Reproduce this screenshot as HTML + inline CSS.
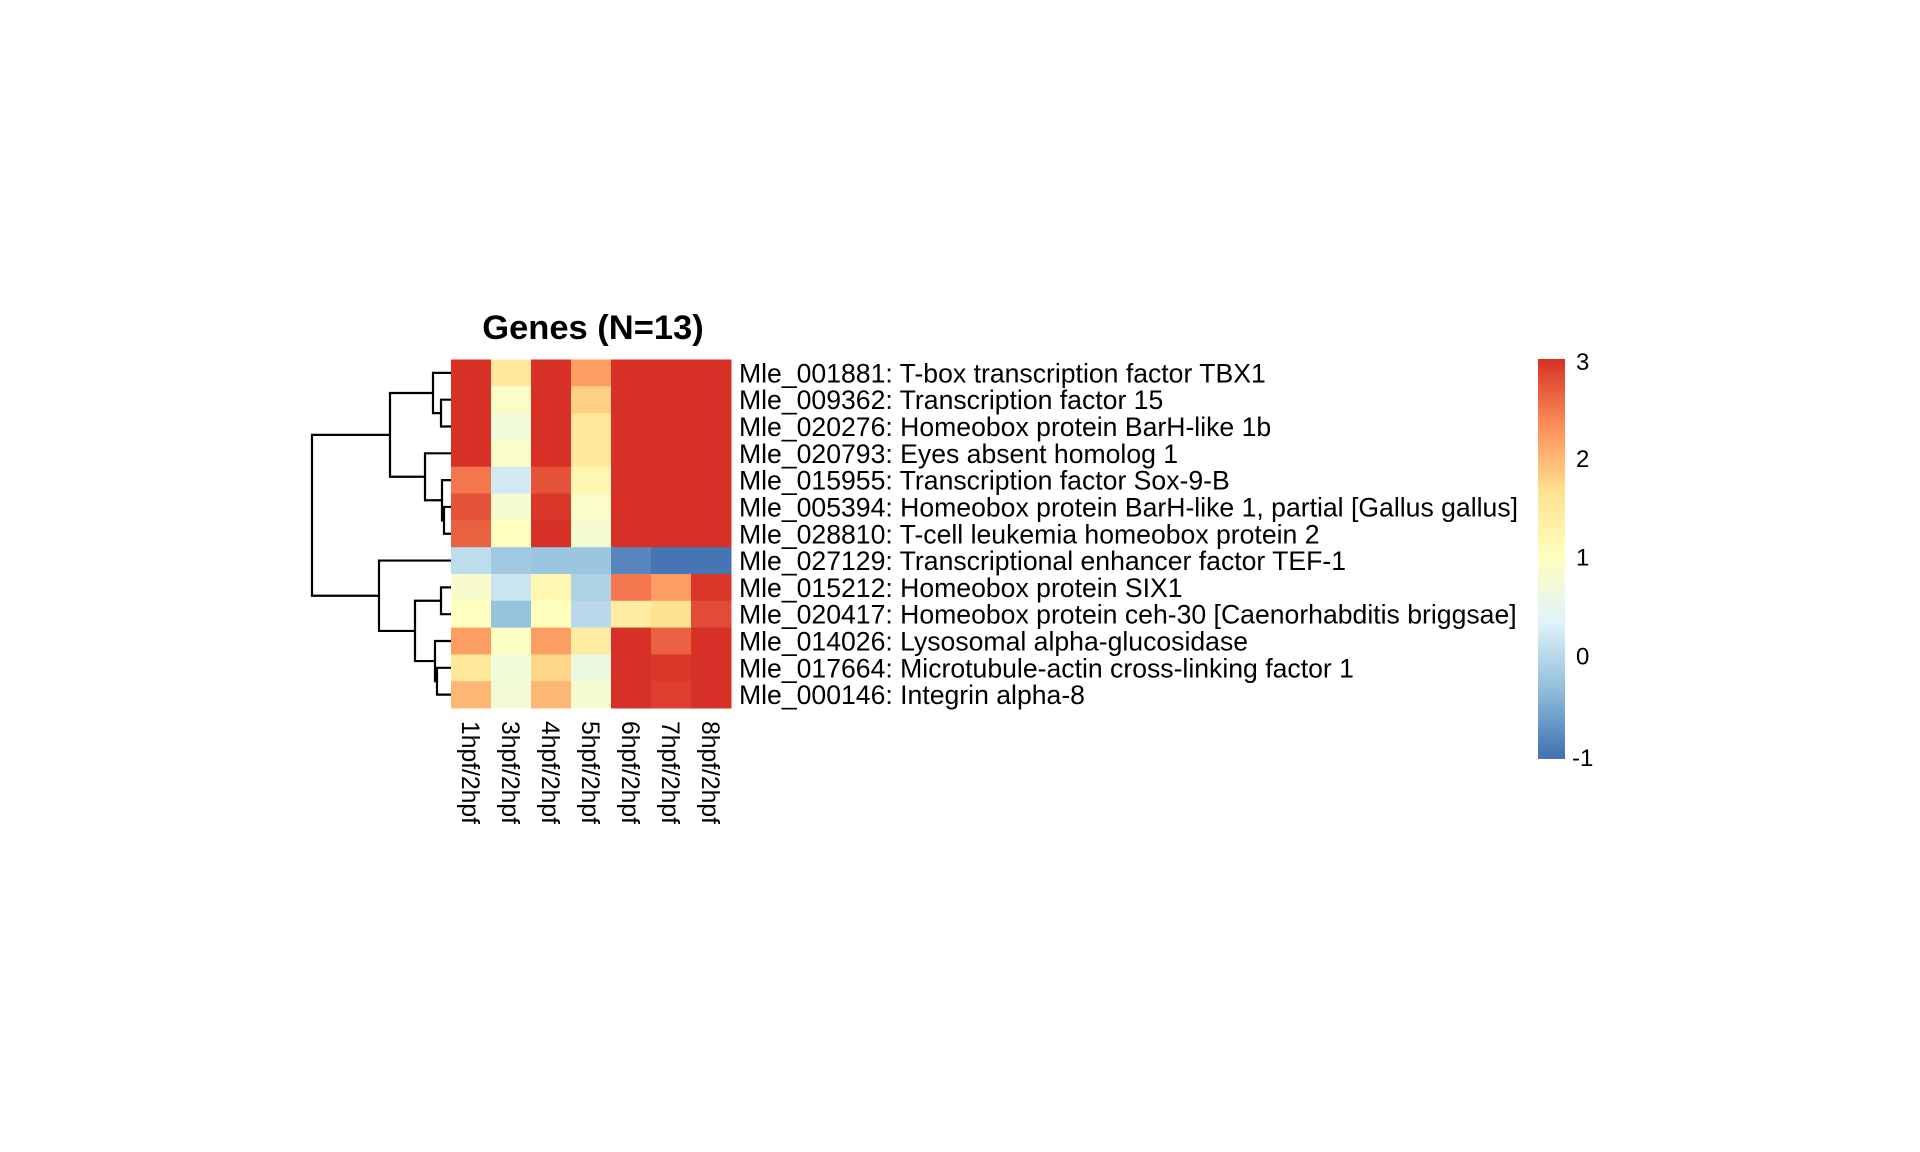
<!DOCTYPE html>
<html><head><meta charset="utf-8"><style>
html,body{margin:0;padding:0;background:#fff;}
svg{display:block;font-family:"Liberation Sans",Arial,sans-serif;}
</style></head><body>
<svg id="chart" width="1920" height="1152" viewBox="0 0 1920 1152">
<rect width="1920" height="1152" fill="#fff"/>
<text x="593" y="339" font-size="34.5" font-weight="bold" text-anchor="middle">Genes (N=13)</text>
<g id="dendro"></g>
<g id="cells"></g>
<g id="rowlabels"></g>
<g id="collabels"></g>
<g id="legend"></g>
</svg>
<script>
const columns = ["1hpf/2hpf","3hpf/2hpf","4hpf/2hpf","5hpf/2hpf","6hpf/2hpf","7hpf/2hpf","8hpf/2hpf"];
const genes = [
"Mle_001881: T-box transcription factor TBX1",
"Mle_009362: Transcription factor 15",
"Mle_020276: Homeobox protein BarH-like 1b",
"Mle_020793: Eyes absent homolog 1",
"Mle_015955: Transcription factor Sox-9-B",
"Mle_005394: Homeobox protein BarH-like 1, partial [Gallus gallus]",
"Mle_028810: T-cell leukemia homeobox protein 2",
"Mle_027129: Transcriptional enhancer factor TEF-1",
"Mle_015212: Homeobox protein SIX1",
"Mle_020417: Homeobox protein ceh-30 [Caenorhabditis briggsae]",
"Mle_014026: Lysosomal alpha-glucosidase",
"Mle_017664: Microtubule-actin cross-linking factor 1",
"Mle_000146: Integrin alpha-8"];
const r0 = [3, 1.5, 3, 2.2, 3, 3, 3];
const r1 = [3, 0.9, 3, 1.8, 3, 3, 3];
const r2 = [3, 0.7, 3, 1.5, 3, 3, 3];
const r3 = [3, 0.9, 3, 1.5, 3, 3, 3];
const r4 = [2.5, 0.2, 2.75, 1.2, 3, 3, 3];
const r5 = [2.75, 0.8, 2.95, 0.9, 3, 3, 3];
const r6 = [2.65, 1.0, 3, 0.8, 3, 3, 3];
const r7 = [0.05, -0.2, -0.25, -0.25, -0.85, -1.05, -1.05];
const r8 = [0.85, 0.15, 1.2, -0.1, 2.5, 2.2, 2.95];
const r9 = [1.0, -0.3, 1.05, 0.0, 1.4, 1.6, 2.8];
const r10 = [2.2, 0.95, 2.2, 1.4, 3, 2.65, 3];
const r11 = [1.5, 0.7, 1.75, 0.6, 3, 2.95, 3];
const r12 = [2.0, 0.75, 2.0, 0.8, 3, 2.9, 3];
const values = [r0,r1,r2,r3,r4,r5,r6,r7,r8,r9,r10,r11,r12];
const legendTicks = [3, 2, 1, 0, -1];
// merges: [a, b, height]; negative = leaf index (-(i+1)), positive = merge number (1-based)
const merges = [
 [-2,-3,10], [-1,1,18], [-6,-7,7], [-5,3,9], [-4,4,26], [2,5,61],
 [-9,-10,10], [-12,-13,14], [-11,8,16], [7,9,36], [-8,10,72], [6,11,139]
];

const NS="http://www.w3.org/2000/svg";
const X0=451, X1=731, Y0=359.5, Y1=708;
const cw=(X1-X0)/columns.length, rh=(Y1-Y0)/genes.length;
const xCol=i=>X0+i*cw, yRow=i=>Y0+i*rh;
const anchors=["#4575B4","#91BFDB","#E0F3F8","#FFFFBF","#FEE090","#FC8D59","#D73027"];
const vmin=-1, vmax=3;
function hex(h){return [1,3,5].map(i=>parseInt(h.substr(i,2),16));}
function color(v){
  let t=(Math.min(vmax,Math.max(vmin,v))-vmin)/(vmax-vmin)*(anchors.length-1);
  let i=Math.min(anchors.length-2,Math.floor(t)), f=t-i;
  const a=hex(anchors[i]), b=hex(anchors[i+1]);
  return "rgb("+a.map((c,k)=>Math.round(c+(b[k]-c)*f)).join(",")+")";
}
function mk(tag,attrs,parent){const e=document.createElementNS(NS,tag);for(const k in attrs)e.setAttribute(k,attrs[k]);parent.appendChild(e);return e;}

const cells=document.getElementById("cells");
values.forEach((row,r)=>row.forEach((v,c)=>{
  const e=mk("rect",{x:xCol(c),y:yRow(r),width:cw+0.5,height:rh+0.5,fill:color(v)},cells);
  
  
}));
const rl=document.getElementById("rowlabels");
genes.forEach((g,r)=>{
  const t=mk("text",{x:X1+8,y:yRow(r)+rh/2+9.5,"font-size":26.6},rl);
  t.textContent=g;
  
  
});
const cl=document.getElementById("collabels");
columns.forEach((c,i)=>{
  const x=xCol(i)+cw/2-9, y=Y1+13;
  const t=mk("text",{x:x,y:y,"font-size":24.7,transform:`rotate(90 ${x} ${y})`},cl);
  t.textContent=c;
  
  
});
// dendrogram
const dg=document.getElementById("dendro");
const pos=[];
function nodeY(n){return n<0?yRow(-n-1)+rh/2:pos[n-1].y;}
function nodeX(n){return n<0?X0:pos[n-1].x;}
merges.forEach((m,i)=>{
  const [a,b,h]=m;
  const x=X0-h, ya=nodeY(a), yb=nodeY(b);
  const p=mk("path",{d:`M${nodeX(a)},${ya}H${x}V${yb}H${nodeX(b)}`,fill:"none",stroke:"#000","stroke-width":2.2},dg);
  
  
  pos.push({x:x,y:(ya+yb)/2});
});
// legend
const lg=document.getElementById("legend");
const LX=1538, LW=27, LT=359, LB=759;
const ly=v=>LT+(3-v)/(3-(-1.05))*(LB-LT);
const defs=mk("defs",{},lg);
const grad=mk("linearGradient",{id:"lgrad",x1:0,y1:1,x2:0,y2:0},defs);
anchors.forEach((c,i)=>{
  const v=vmin+i*(vmax-vmin)/(anchors.length-1);
  mk("stop",{offset:((ly(-1.05)-ly(v))/(LB-LT)),"stop-color":c},grad);
});
const bar=mk("rect",{x:LX,y:LT,width:LW,height:LB-LT,fill:"url(#lgrad)"},lg);


legendTicks.forEach(v=>{
  const t=mk("text",{x:LX+LW+(v<0?7:11),y:ly(v)+9+(v===3?2:0)+(v===-1?3:0),"font-size":24},lg);
  t.textContent=String(v);
  
  
});
</script>
</body></html>
